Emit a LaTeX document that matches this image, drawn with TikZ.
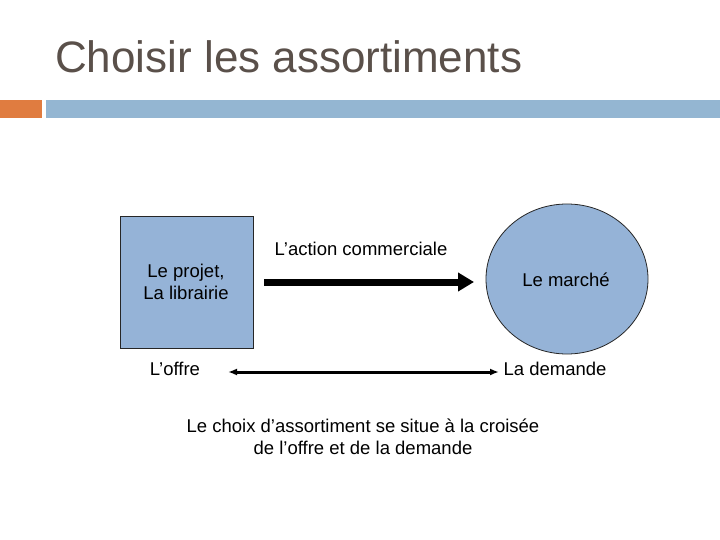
\documentclass[tikz,border=0pt]{standalone}
\usepackage{fontspec}
\setmainfont{Liberation Sans}
\usetikzlibrary{arrows.meta,shapes.geometric}
\definecolor{titlegray}{RGB}{90,80,74}
\definecolor{barorange}{RGB}{224,124,64}
\definecolor{barblue}{RGB}{148,182,210}
\definecolor{shapeblue}{RGB}{149,179,215}
\tikzset{
  lbl/.style={font=\fontsize{18.5}{21.5}\selectfont, inner sep=0pt, align=center, text=black},
  shapefill/.style={fill=shapeblue, draw=black!85, line width=0.8pt}
}
\begin{document}
\begin{tikzpicture}[x=1pt,y=-1pt]
\useasboundingbox (0,0) rectangle (720,540);
\fill[white] (0,0) rectangle (720,540);
% title
\node[anchor=base west, inner sep=0pt, text=titlegray, font=\fontsize{44}{50}\selectfont] (title) at (55,73) {Choisir les assortiments};
% bars
\fill[barorange] (0,100) rectangle (42,118);
\fill[barblue] (46,100) rectangle (720,118);
% square
\node[shapefill, minimum width=133pt, minimum height=132pt, inner sep=0pt] (projet) at (186.5,282) {};
\node[lbl] (projettxt) at (186,282) {Le projet,\\La librairie};
% circle
\node[shapefill, ellipse, minimum width=162pt, minimum height=150pt, inner sep=0pt] (marche) at (567,279) {};
\node[lbl] (marchetxt) at (566,280) {Le marché};
% action arrow
\coordinate (a1) at (264,282);
\coordinate (a2) at (474,282);
\draw[line width=7pt, -{Triangle[length=16pt,width=18pt]}] (a1) -- (a2);
\node[lbl] (action) at (361,249) {L’action commerciale};
% offre demande
\node[lbl] (offre) at (175,369) {L’offre};
\node[lbl] (demande) at (555,369) {La demande};
\coordinate (b1) at (228,372);
\coordinate (b2) at (499,372);
\draw[line width=3pt, {Latex[length=9pt,width=7pt]}-{Latex[length=9pt,width=7pt]}] (b1) -- (b2);
% bottom text
\node[lbl] (choix) at (363,437) {Le choix d’assortiment se situe à la croisée\\de l’offre et de la demande};
\end{tikzpicture}
\end{document}
